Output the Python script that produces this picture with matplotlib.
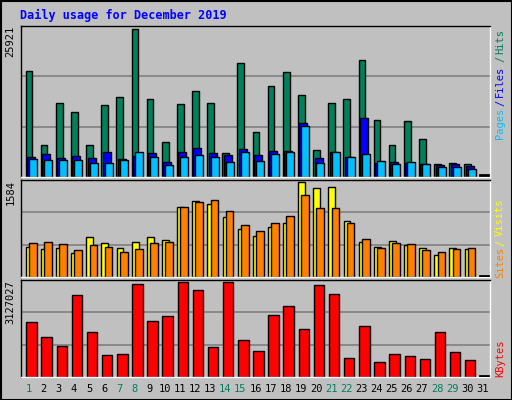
import matplotlib
matplotlib.use("Agg")
import matplotlib.pyplot as plt
import numpy as np

days = list(range(1, 32))
weekend = [1, 7, 8, 14, 15, 21, 22, 28, 29]
# pixel-estimated heights converted to values
hits_px = [105,32,73,65,32,71,79,147,77,35,72,85,73,24,113,45,90,104,81,27,73,77,116,57,32,56,38,13,14,13,0]
files_px = [20,23,19,21,19,25,18,21,24,15,25,29,24,22,28,22,26,26,54,19,25,20,59,14,15,14,13,12,13,11,0]
pages_px = [18,17,17,17,14,14,17,25,20,12,20,22,20,15,25,16,23,25,51,14,25,20,23,16,13,15,13,10,10,8,0]
visits_px = [86,80,83,68,116,98,83,101,116,107,203,221,212,173,140,119,146,155,275,257,260,161,101,86,104,92,83,65,83,80,0]
sites_px = [98,101,95,77,92,86,71,80,98,101,203,218,224,191,149,134,155,176,236,200,200,155,110,83,98,95,77,71,80,83,0]
kb_px = [159,114,90,234,129,63,66,267,162,174,273,249,87,273,105,75,177,204,138,264,237,54,147,42,66,60,51,129,72,48,0]

hits = [round(v/147*25921) for v in hits_px]
files = [round(v/147*25921) for v in files_px]
pages = [round(v/147*25921) for v in pages_px]
visits = [round(v/275*1584) for v in visits_px]
sites = [round(v/275*1584) for v in sites_px]
kbytes = [round(v/273*3127027) for v in kb_px]

W, H = 512, 400
fig = plt.figure(figsize=(W/100, H/100), dpi=100)
fig.patch.set_facecolor("#C0C0C0")
mono = "DejaVu Sans Mono"

def ax_px(x0, y0, x1, y1):
    return fig.add_axes([x0/W, 1-y1/H, (x1-x0)/W, (y1-y0)/H])

# outer border
fig.add_artist(plt.Rectangle((0.5/W, 0.5/H), 1-1/W, 1-1/H, transform=fig.transFigure,
                             fill=False, ec="black", lw=1.5))

fig.text(20/W, 1-15/H, "Daily usage for December 2019", color="#0000FF",
         family=mono, fontsize=8.5, fontweight="bold", va="center", ha="left")

x = np.array(days, dtype=float)

def setup(ax, vmax, label):
    ax.set_facecolor("#C0C0C0")
    ax.set_xlim(0.5, 31.5)
    ax.set_ylim(0, vmax*1.02)
    ax.set_xticks([]); ax.set_yticks([])
    for y in (vmax/3*1.02, 2*vmax/3*1.02):
        ax.axhline(y, color="#808080", lw=1.2, zorder=0)
    for s in ax.spines.values():
        s.set_color("black"); s.set_linewidth(1)
    ax.spines["bottom"].set_color("white"); ax.spines["right"].set_color("white")
    ax.text(-0.012, 1.0, label, transform=ax.transAxes, rotation=90, ha="right",
            va="top", family=mono, fontsize=7.5)

def bars(ax, left, width, vals, color):
    v = np.array(vals, dtype=float)
    m = v > 0
    ax.bar(x[m]+left, v[m], width=width, align="edge", color=color,
           edgecolor="black", lw=1, zorder=2)

def zero_mark(ax, vmax):
    ax.plot([30.85, 31.35], [vmax*0.012]*2, color="black", lw=2, zorder=3)

ax1 = ax_px(21, 26, 490, 177)
setup(ax1, 25921, "25921")
bars(ax1, -0.19, 0.44, hits, "#00805C")
bars(ax1, -0.10, 0.53, files, "#0000FF")
bars(ax1, 0.03, 0.53, pages, "#00C0FF")
zero_mark(ax1, 25921)

ax2 = ax_px(21, 180, 490, 277)
setup(ax2, 1584, "1584")
bars(ax2, -0.18, 0.45, visits, "#FFFF00")
bars(ax2, 0.03, 0.51, sites, "#FF8000")
zero_mark(ax2, 1584)

ax3 = ax_px(21, 280, 490, 377)
setup(ax3, 3127027, "3127027")
bars(ax3, -0.15, 0.69, kbytes, "#FF0000")
zero_mark(ax3, 3127027)

for d in days:
    xp = 21 + (d-0.5)/31*469
    fig.text(xp/W, 1-389/H, str(d), ha="center", va="center", family=mono,
             fontsize=7.5, color="#00805C" if d in weekend else "black")

def rlabel(parts):
    for txt, y, c in parts:
        fig.text(500/W, 1-y/H, txt, rotation=90, ha="center", va="center",
                 family=mono, fontsize=7.5, color=c)

rlabel([("Pages", 123, "#00C0FF"), ("/", 103, "#0000FF"), ("Files", 81, "#0000FF"),
        ("/", 59, "#00805C"), ("Hits", 41, "#00805C")])
rlabel([("Sites", 262, "#FF8000"), ("/", 243, "#FFFF00"), ("Visits", 217, "#FFFF00")])
rlabel([("KBytes", 358, "#FF0000")])

fig.savefig("out.png", dpi=100, facecolor=fig.get_facecolor())
